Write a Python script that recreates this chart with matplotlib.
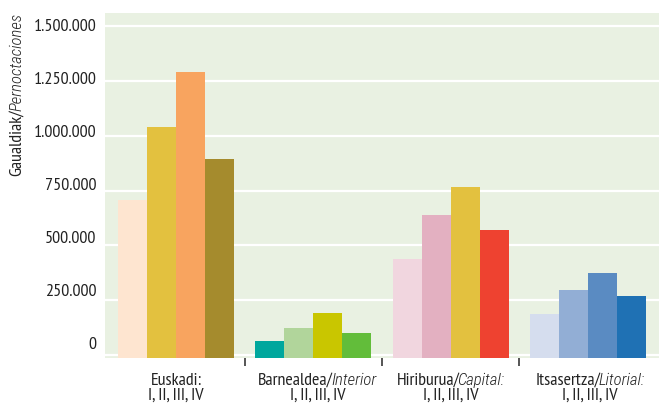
import matplotlib
matplotlib.use("Agg")
import matplotlib.pyplot as plt
import matplotlib.transforms as mtransforms
import numpy as np

REG = ['PT Sans Narrow', 'IBM Plex Sans Condensed', 'DejaVu Sans']
ITA = ['Roboto Condensed', 'Archivo Narrow', 'IBM Plex Sans Condensed', 'DejaVu Sans']
plt.rcParams['font.family'] = REG

# ---- data ----
group_names = [[("Euskadi:", "normal")],
               [("Barnealdea/", "normal"), ("Interior", "italic")],
               [("Hiriburua/", "normal"), ("Capital:", "italic")],
               [("Itsasertza/", "normal"), ("Litorial:", "italic")]]
quarter_text = "I, II, III, IV"
quarter_I = [707000, 63000, 437000, 186000]
quarter_II = [1040000, 122000, 638000, 296000]
quarter_III = [1291000, 191000, 766000, 373000]
quarter_IV = [894000, 100000, 570000, 268000]
colors = [["#FEE5D0", "#E3C13F", "#F8A45F", "#A58B2D"],
          ["#00A79D", "#B1D59B", "#C9C600", "#62BD3A"],
          ["#F1D6DF", "#E3B0C1", "#E3C13F", "#EE4230"],
          ["#D5DDEE", "#92AED5", "#5A8BC2", "#1F71B4"]]
ytick_vals = [0, 250000, 500000, 750000, 1000000, 1250000, 1500000]
ytick_labels = ["0", "250.000", "500.000", "750.000", "1.000.000", "1.250.000", "1.500.000"]
ylabel_parts = [("Gaualdiak/", "normal"), ("Pernoctaciones", "italic")]

W, H = 659, 403
TXT = "#222222"
FS = 13
fig = plt.figure(figsize=(W / 100, H / 100), dpi=100)
ax = fig.add_axes([105 / W, 1 - 358 / H, (659 - 105) / W, (358 - 13) / H])
ax.set_facecolor("#E9F1E2")

unit = 137.3  # pixels per group slot
ymin, ymax = -14000, 1560000
ax.set_ylim(ymin, ymax)
ax.set_xlim(-(176 - 105) / unit, 3 + (659 - 588) / unit)

series = [quarter_I, quarter_II, quarter_III, quarter_IV]
bw = 29 / unit
x = np.arange(len(group_names))
for k, vals in enumerate(series):
    vals = np.asarray(vals, dtype=float)
    xs = x + (k - 1.5) * bw
    ax.bar(xs, vals - ymin, bottom=ymin, width=bw,
           color=[colors[g][k] for g in range(len(x))], linewidth=0, zorder=2)

ax.set_yticks(ytick_vals)
ax.set_yticklabels(ytick_labels, fontsize=FS, color=TXT)
ax.tick_params(axis='y', length=0, pad=6)
ax.yaxis.grid(True, color="white", linewidth=1.6, zorder=1)
ax.set_axisbelow(True)
for lab, v in zip(ax.get_yticklabels(), ytick_vals):
    dy = (1 + 11 * (1 - v / 1500000)) / 100.0
    lab.set_transform(lab.get_transform() + mtransforms.ScaledTranslation(0, dy, fig.dpi_scale_trans))

# group separators
ax.set_xticks(x[:-1] + 0.5)
ax.set_xticklabels([])
ax.tick_params(axis='x', length=6, width=1.4, color="#555555", direction='out')
for s in ax.spines.values():
    s.set_visible(False)

renderer = fig.canvas.get_renderer()
KERN = 2.0


def style_kw(st, size):
    if st == "normal":
        return dict(family=REG, style="normal", fontsize=size)
    return dict(family=ITA, style="italic", weight="light", fontsize=size * 0.93)


def mixed_h(xc_px, base_px, parts, size):
    arts = []
    for s, st in parts:
        t = fig.text(0, 0, s, ha='left', va='baseline', color=TXT, **style_kw(st, size))
        arts.append(t)
    widths = [t.get_window_extent(renderer).width for t in arts]
    total = sum(widths) - KERN * (len(arts) - 1)
    start = xc_px - total / 2
    for t, w in zip(arts, widths):
        t.set_position((start / W, 1 - base_px / H))
        start += w - KERN


def mixed_v(base_x_px, top_px, parts, size):
    arts = []
    for s, st in parts:
        t = fig.text(0, 0, s, rotation=90, rotation_mode='anchor', ha='left',
                     va='baseline', color=TXT, **style_kw(st, size))
        arts.append(t)
    lens = [t.get_window_extent(renderer).height for t in arts]
    ypos = top_px + sum(lens) - KERN * (len(arts) - 1)
    for t, l in zip(arts, lens):
        t.set_position((base_x_px / W, 1 - ypos / H))
        ypos -= l - KERN


label_dx = [0, 4, 0, 2]
to_px = ax.transData
for g in range(len(x)):
    xc = to_px.transform((x[g], 0))[0] + label_dx[g]
    mixed_h(xc, 385, group_names[g], FS)
    mixed_h(xc, 400, [(quarter_text, "normal")], FS)

mixed_v(21, 13, ylabel_parts, FS)

fig.savefig("out.png", dpi=100)
